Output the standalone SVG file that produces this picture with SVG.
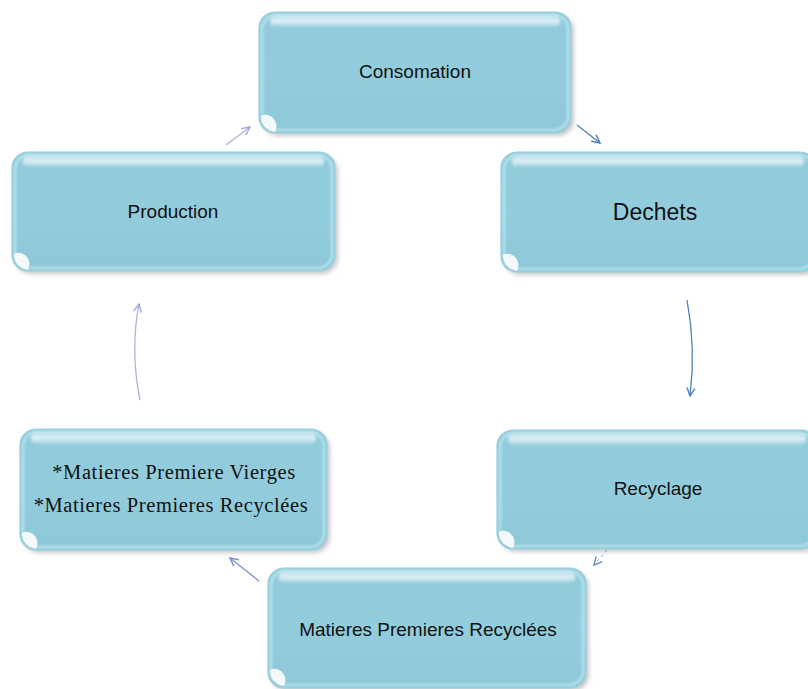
<svg xmlns="http://www.w3.org/2000/svg" width="808" height="689" viewBox="0 0 808 689">
  <defs>
    <style>
      .shadow { fill: #7a7a7a; opacity: 0.4; filter: url(#soft); }
      .body { fill: url(#bodyFill); stroke: #98cddc; stroke-width: 1.2; }
      .rim { fill: none; stroke: #c8eef6; stroke-width: 3; opacity: 0.6; filter: url(#blur1); }
      .gloss { fill: url(#glossFill); filter: url(#blur2); }
      .glint { fill: #ffffff; opacity: 0.9; filter: url(#blur05); }
      .label { font-family: "Liberation Sans", Arial, sans-serif; font-size: 19px; fill: #111; text-anchor: middle; }
      .serif { font-family: "Liberation Serif", "Times New Roman", serif; font-size: 20.5px; letter-spacing: 0.6px; fill: #111; text-anchor: middle; }
      .link { fill: none; stroke-width: 1.3; }
    </style>
    <filter id="soft" x="-10%" y="-10%" width="120%" height="120%">
      <feGaussianBlur stdDeviation="2.2"/>
    </filter>
    <filter id="blur1" x="-10%" y="-50%" width="120%" height="200%">
      <feGaussianBlur stdDeviation="1.2"/>
    </filter>
    <filter id="blur2" x="-10%" y="-80%" width="120%" height="260%">
      <feGaussianBlur stdDeviation="1.8"/>
    </filter>
    <filter id="blur05" x="-50%" y="-50%" width="200%" height="200%">
      <feGaussianBlur stdDeviation="0.6"/>
    </filter>
    <linearGradient id="bodyFill" x1="0" y1="0" x2="0" y2="1">
      <stop offset="0" stop-color="#8fcadb"/>
      <stop offset="0.5" stop-color="#93cddd"/>
      <stop offset="1" stop-color="#8dc7d8"/>
    </linearGradient>
    <linearGradient id="glossFill" x1="0" y1="0" x2="0" y2="1">
      <stop offset="0" stop-color="#ffffff" stop-opacity="0.3"/>
      <stop offset="0.45" stop-color="#ffffff" stop-opacity="0.75"/>
      <stop offset="1" stop-color="#ffffff" stop-opacity="0"/>
    </linearGradient>
    <marker id="headBlue" markerUnits="userSpaceOnUse" markerWidth="12" markerHeight="12" refX="9" refY="5" orient="auto">
      <path d="M1,1 L9,5 L1,9" fill="none" stroke="#4f7fbd" stroke-width="1.4"/>
    </marker>
    <marker id="headLilac" markerUnits="userSpaceOnUse" markerWidth="12" markerHeight="12" refX="9" refY="5" orient="auto">
      <path d="M1,1 L9,5 L1,9" fill="none" stroke="#9fa9d2" stroke-width="1.4"/>
    </marker>
    <marker id="headSlate" markerUnits="userSpaceOnUse" markerWidth="12" markerHeight="12" refX="9" refY="5" orient="auto">
      <path d="M1,1 L9,5 L1,9" fill="none" stroke="#7f93c8" stroke-width="1.5"/>
    </marker>
    <marker id="headPale" markerUnits="userSpaceOnUse" markerWidth="12" markerHeight="12" refX="9" refY="5" orient="auto">
      <path d="M1,1 L9,5 L1,9" fill="none" stroke="#6f8fc6" stroke-width="1.4"/>
    </marker>
  </defs>

  <rect width="808" height="689" fill="#ffffff"/>

  <!-- connectors -->
  <g id="connectors">
    <path class="link" d="M577,125 L600,143" stroke="#4f7fbd" marker-end="url(#headBlue)"/>
    <path class="link" d="M687,300 Q696,348 690,396" stroke="#4f7fbd" marker-end="url(#headBlue)"/>
    <path class="link" d="M607,550 L594,565" stroke="#b9c7e4" stroke-dasharray="3 3" marker-end="url(#headPale)"/>
    <path class="link" d="M259,581 L230,558" stroke="#7f93c8" stroke-width="1.5" marker-end="url(#headSlate)"/>
    <path class="link" d="M140,400 Q130,350 139,304" stroke="#aab4da" marker-end="url(#headLilac)"/>
    <path class="link" d="M226,145 L250,127" stroke="#aab4da" marker-end="url(#headLilac)"/>
  </g>

  <!-- Consomation -->
  <g id="node-consomation">
    <rect class="shadow" x="262" y="15" width="312" height="121" rx="16"/>
    <rect class="body" x="259" y="12" width="312" height="121" rx="16"/>
    <rect class="rim" x="262" y="15" width="306" height="115" rx="14"/>
    <rect class="gloss" x="270" y="15" width="290" height="13" rx="6"/>
    <path class="glint" d="M261,116 Q261,129 275,132 Q279,123 272,117 Q266,113 261,116 Z"/>
    <text class="label" x="415" y="78">Consomation</text>
  </g>

  <!-- Dechets -->
  <g id="node-dechets">
    <rect class="shadow" x="504" y="155" width="315" height="120" rx="16"/>
    <rect class="body" x="501" y="152" width="315" height="120" rx="16"/>
    <rect class="rim" x="504" y="155" width="309" height="114" rx="14"/>
    <rect class="gloss" x="512" y="155" width="292" height="13" rx="6"/>
    <path class="glint" d="M503,255 Q503,268 517,271 Q521,262 514,256 Q508,252 503,255 Z"/>
    <text class="label" x="655" y="220" style="font-size:23px">Dechets</text>
  </g>

  <!-- Production -->
  <g id="node-production">
    <rect class="shadow" x="15" y="155" width="323" height="119" rx="16"/>
    <rect class="body" x="12" y="152" width="323" height="119" rx="16"/>
    <rect class="rim" x="15" y="155" width="317" height="113" rx="14"/>
    <rect class="gloss" x="23" y="155" width="301" height="13" rx="6"/>
    <path class="glint" d="M14,254 Q14,267 28,270 Q32,261 25,255 Q19,251 14,254 Z"/>
    <text class="label" x="173" y="218">Production</text>
  </g>

  <!-- Matieres premieres (vierges / recyclees) -->
  <g id="node-matieres">
    <rect class="shadow" x="23" y="432" width="307" height="121" rx="16"/>
    <rect class="body" x="20" y="429" width="307" height="121" rx="16"/>
    <rect class="rim" x="23" y="432" width="301" height="115" rx="14"/>
    <rect class="gloss" x="31" y="432" width="285" height="13" rx="6"/>
    <path class="glint" d="M22,533 Q22,546 36,549 Q40,540 33,534 Q27,530 22,533 Z"/>
    <text class="serif" x="174" y="479">*Matieres Premiere Vierges</text>
    <text class="serif" x="171" y="512">*Matieres Premieres Recyclées</text>
  </g>

  <!-- Recyclage -->
  <g id="node-recyclage">
    <rect class="shadow" x="500" y="433" width="320" height="119" rx="16"/>
    <rect class="body" x="497" y="430" width="320" height="119" rx="16"/>
    <rect class="rim" x="500" y="433" width="314" height="113" rx="14"/>
    <rect class="gloss" x="508" y="433" width="298" height="13" rx="6"/>
    <path class="glint" d="M499,532 Q499,545 513,548 Q517,539 510,533 Q504,529 499,532 Z"/>
    <text class="label" x="658" y="495">Recyclage</text>
  </g>

  <!-- Matieres Premieres Recyclees -->
  <g id="node-mpr">
    <rect class="shadow" x="271" y="571" width="318" height="120" rx="16"/>
    <rect class="body" x="268" y="568" width="318" height="120" rx="16"/>
    <rect class="rim" x="271" y="571" width="312" height="114" rx="14"/>
    <rect class="gloss" x="279" y="571" width="296" height="13" rx="6"/>
    <path class="glint" d="M270,670 Q270,683 284,686 Q288,677 281,671 Q275,667 270,670 Z"/>
    <text class="label" x="428" y="636">Matieres Premieres Recyclées</text>
  </g>
</svg>
